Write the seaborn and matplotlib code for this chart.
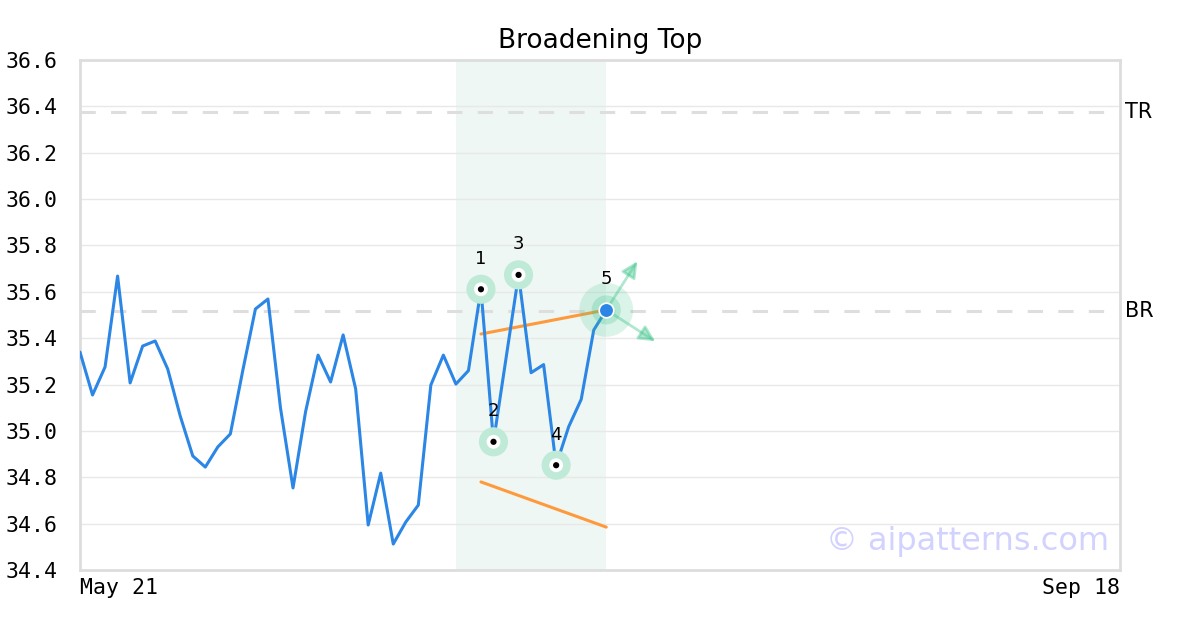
import matplotlib
matplotlib.use("Agg")
import matplotlib.pyplot as plt
import seaborn as sns
import pandas as pd
import numpy as np

# ---- data ----
prices = [35.34, 35.155, 35.276, 35.668, 35.207, 35.366, 35.388, 35.267, 35.064, 34.892,
          34.844, 34.931, 34.987, 35.263, 35.526, 35.569, 35.099, 34.754, 35.082, 35.327,
          35.211, 35.414, 35.181, 34.594, 34.818, 34.512, 34.607, 34.680, 35.198, 35.327,
          35.202, 35.260, 35.611, 34.953, 35.313, 35.673, 35.251, 35.286, 34.852, 35.018,
          35.136, 35.435, 35.522]
pivot_idx = [32, 33, 35, 38]
pivot_labels = ["1", "2", "3", "4"]
last_label = "5"
upper_x = [32, 42]
upper_y = [35.418, 35.522]
lower_x = [32, 42]
lower_y = [34.78, 34.585]
tr_level = 36.376
br_level = 35.517
shade_x = [30, 42]
x_max = 83
x_tick_labels = ["May 21", "Sep 18"]
y_ticks = [34.4, 34.6, 34.8, 35.0, 35.2, 35.4, 35.6, 35.8, 36.0, 36.2, 36.4, 36.6]
title = "Broadening Top"

df = pd.DataFrame({"idx": np.arange(len(prices)), "price": prices})
piv = df.iloc[pivot_idx]
last = df.iloc[[-1]]

sns.set_theme(style="white")
plt.rcParams['font.family'] = ['DejaVu Sans']
plt.rcParams['text.color'] = 'black'

fig = plt.figure(figsize=(12, 6.3), dpi=100)
ax = fig.add_axes([80/1200, 1-570/630, 1040/1200, 510/630])

ax.axvspan(shade_x[0], shade_x[1], color="#eef7f3", zorder=0, lw=0)
for yv in y_ticks:
    ax.axhline(yv, color="#e8e8e8", lw=1, zorder=0.5)
for lv in (tr_level, br_level):
    ax.axhline(lv, color="#dedede", lw=2.2, ls=(0, (5, 5)), zorder=0.6)

sns.lineplot(data=df, x="idx", y="price", ax=ax, color="#2b86e5", lw=2.2, zorder=3)
ax.plot(upper_x, upper_y, color="#ff9a3c", lw=2.2, zorder=2.5)
ax.plot(lower_x, lower_y, color="#ff9a3c", lw=2.2, zorder=2.5)

# pivot markers
sns.scatterplot(data=piv, x="idx", y="price", ax=ax, s=440, color="#bfead7", edgecolor="none", zorder=4)
sns.scatterplot(data=piv, x="idx", y="price", ax=ax, s=100, color="white", edgecolor="none", zorder=5)
sns.scatterplot(data=piv, x="idx", y="price", ax=ax, s=20, color="black", edgecolor="none", zorder=6)
for (_, r), lab in zip(piv.iterrows(), pivot_labels):
    ax.annotate(lab, (r["idx"], r["price"]), xytext=(0, 22), textcoords="offset points",
                ha="center", va="center", fontsize=13, color="black", zorder=7)

# last point
lx, ly = last["idx"].iloc[0], last["price"].iloc[0]
sns.scatterplot(data=last, x="idx", y="price", ax=ax, s=1500, color="#3cc48a", alpha=0.18, edgecolor="none", zorder=4)
sns.scatterplot(data=last, x="idx", y="price", ax=ax, s=440, color="#3cc48a", alpha=0.25, edgecolor="none", zorder=4.5)
sns.scatterplot(data=last, x="idx", y="price", ax=ax, s=110, color="#2b86e5", edgecolor="white", linewidth=1.2, zorder=6)
ax.annotate(last_label, (lx, ly), xytext=(0, 22), textcoords="offset points",
            ha="center", va="center", fontsize=13, color="black", zorder=7)
for dx, dy in [(2.6, 0.22), (4.1, -0.142)]:
    ax.annotate("", xy=(lx + dx, ly + dy), xytext=(lx, ly),
                arrowprops=dict(arrowstyle="-|>,head_length=0.8,head_width=0.4", color="#3cc48a",
                                alpha=0.4, lw=2), zorder=5)

ax.set_xlim(0, x_max)
ax.set_ylim(y_ticks[0], y_ticks[-1])
ax.set_yticks(y_ticks)
ax.set_yticklabels([f"{v:.1f}" for v in y_ticks], fontfamily="DejaVu Sans Mono", fontsize=15.5)
ax.set_xticks([0, x_max])
xt = ax.set_xticklabels(x_tick_labels, fontfamily="DejaVu Sans Mono", fontsize=15.5)
xt[0].set_ha("left")
xt[1].set_ha("right")
ax.tick_params(axis="both", length=0, colors="black")
ax.tick_params(axis="y", pad=16.5)
ax.tick_params(axis="x", pad=6)
ax.set_xlabel("")
ax.set_ylabel("")
for sp in ax.spines.values():
    sp.set_color("#dddddd")
    sp.set_linewidth(2)
    sp.set_visible(True)

ax.set_title(title, fontsize=19, pad=9, color="black")
ax.text(1.0 + 5/1040, (tr_level - y_ticks[0]) / (y_ticks[-1] - y_ticks[0]), "TR",
        transform=ax.transAxes, fontsize=15, va="center", ha="left", color="black")
ax.text(1.0 + 5/1040, (br_level - y_ticks[0]) / (y_ticks[-1] - y_ticks[0]), "BR",
        transform=ax.transAxes, fontsize=15, va="center", ha="left", color="black")
ax.text(0.99, 0.055, "© aipatterns.com", transform=ax.transAxes, fontsize=23,
        color="#d2d2ff", ha="right", va="center", zorder=1)

fig.savefig("out.png", dpi=100)
